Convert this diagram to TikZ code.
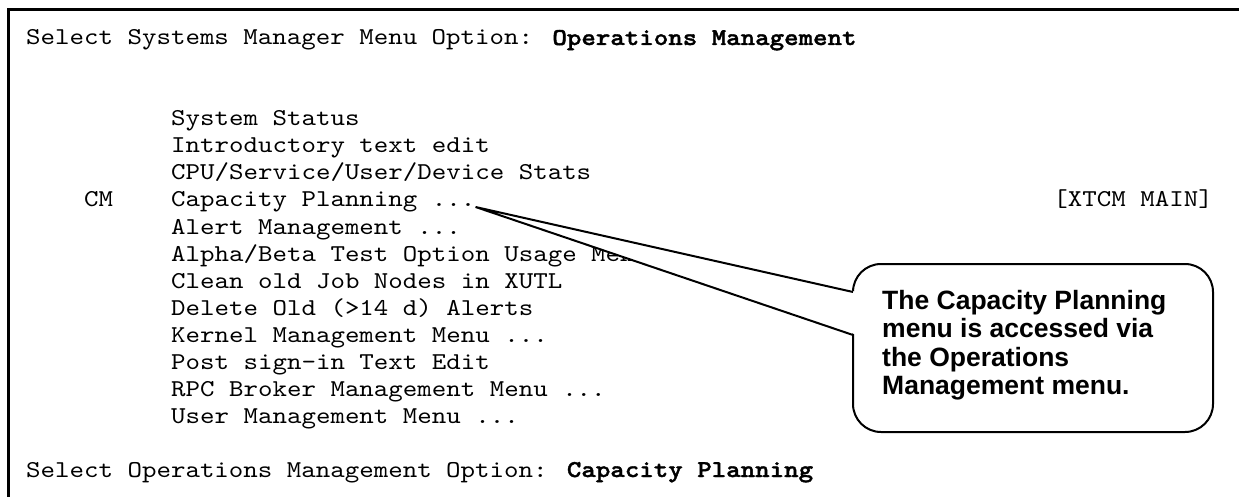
\documentclass[tikz,border=0pt]{standalone}
\usepackage{fontspec}
\newfontfamily\termfam[FakeStretch=1.14,BoldFont=lmmonolt10-bold.otf,BoldFeatures={FakeBold=1.5}]{lmmono10-regular.otf}
\newfontfamily\notefont{Liberation Sans}
\newcommand\termfont{\fontsize{24.2pt}{27pt}\selectfont\termfam}
\begin{document}
\begin{tikzpicture}[x=1pt,y=-1pt,
  term/.style={anchor=base west, inner sep=0pt, font=\termfont},
  termr/.style={anchor=base east, inner sep=0pt, font=\termfont},
  frame/.style={line width=3pt},
  callbox/.style={draw, line width=2pt, fill=white, rounded corners=28pt,
    minimum width=360pt, minimum height=168pt, inner sep=0pt},
  pointer/.style={line width=2pt, line join=miter},
  notetext/.style={anchor=base west, inner sep=0pt, align=left,
    font=\notefont\bfseries\fontsize{26.5pt}{28.5pt}\selectfont}]
\useasboundingbox (0,0) rectangle (1239,497);
% frame
\coordinate (fbl) at (8,497);
\coordinate (ftl) at (8,9.5);
\coordinate (ftr) at (1239,9.5);
\draw[frame] (fbl) -- (ftl) -- (ftr);
% terminal text
\node[term] (l0) at (26,45) {Select Systems Manager Menu Option: \textbf{Operations Management}};
\node[term] (l3) at (171,126) {System Status};
\node[term] (l4) at (171,153) {Introductory text edit};
\node[term] (l5) at (171,180) {CPU/Service/User/Device Stats};
\node[term] (cm) at (84,207) {CM};
\node[term] (l6) at (171,207) {Capacity Planning ...};
\node[termr] (xtcm) at (1213,207) {[XTCM MAIN]};
\node[term] (l7) at (171,234) {Alert Management ...};
\node[term] (l8) at (171,261) {Alpha/Beta Test Option Usage Menu};
\node[term] (l9) at (171,288) {Clean old Job Nodes in XUTL};
\node[term] (l10) at (171,315) {Delete Old (>14 d) Alerts};
\node[term] (l11) at (171,342) {Kernel Management Menu ...};
\node[term] (l12) at (171,369) {Post sign-in Text Edit};
\node[term] (l13) at (171,396) {RPC Broker Management Menu ...};
\node[term] (l14) at (171,423) {User Management Menu ...};
\node[term] (l16) at (26,477) {Select Operations Management Option: \textbf{Capacity Planning}};
% callout
\node[callbox] (callout) at (1033,348) {};
\coordinate (tip) at (l6.base east);
\coordinate (pa) at (853,292);
\coordinate (pb) at (853,335);
\coordinate (pa2) at (857,292);
\coordinate (pb2) at (857,335);
\fill[white] (pa2) -- (tip) -- (pb2) -- cycle;
\draw[pointer] (pa) -- (tip) -- (pb);
\node[notetext] (note) at (882,394.5) {The Capacity Planning\\menu is accessed via\\the Operations\\Management menu.};
\end{tikzpicture}
\end{document}
